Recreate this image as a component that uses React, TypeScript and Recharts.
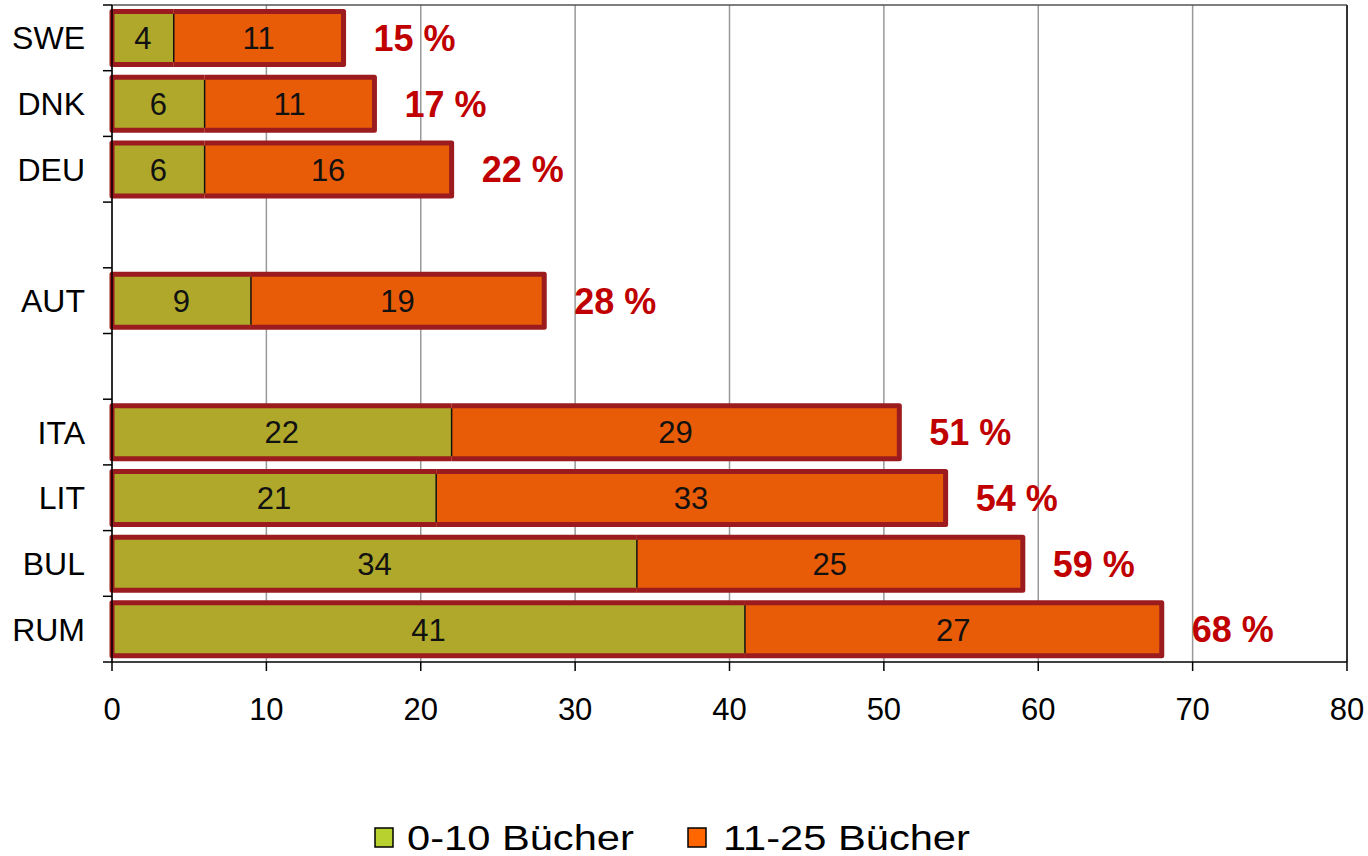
import { BarChart, Bar, XAxis, YAxis, CartesianGrid, LabelList, Legend, ReferenceLine } from "recharts";

// Stacked share of pupils per country by number of books at home
const countries = ["SWE", "DNK", "DEU", " ", "AUT", "  ", "ITA", "LIT", "BUL", "RUM"];
const books0to10 = [4, 6, 6, null, 9, null, 22, 21, 34, 41];
const books11to25 = [11, 11, 16, null, 19, null, 29, 33, 25, 27];
const xTicks = [0, 10, 20, 30, 40, 50, 60, 70, 80];
const seriesNames = ["0-10 Bücher", "11-25 Bücher"];

const data = countries.map((country, i) => ({
  country,
  low: books0to10[i],
  mid: books11to25[i],
  total: books0to10[i] == null ? null : (books0to10[i] as number) + (books11to25[i] as number),
}));

const WIDTH = 1368;
const HEIGHT = 856;
const MARGIN = { top: 5, right: 21, left: 0, bottom: 134 };
const X_AXIS_H = 60;
const Y_AXIS_W = 112;
const FONT = "Arial, 'Liberation Sans', sans-serif";

const GREEN = "#AFA82B";
const ORANGE = "#E95C07";
const LEGEND_GREEN = "#B8D12E";
const LEGEND_ORANGE = "#FF6600";
const OUTLINE = "#9B1B1F";
const PCT_RED = "#C00000";

const bandHalf = (HEIGHT - MARGIN.top - MARGIN.bottom - X_AXIS_H) / countries.length / 2;

// left segment: outline on top, left and bottom
function LowSegment(props: any) {
  const { x, y, width, height, fill } = props;
  if (!width || !height) return null;
  return (
    <g>
      <rect x={x} y={y} width={width} height={height} fill={fill} />
      <path
        d={`M${x + width},${y} H${x} V${y + height} H${x + width}`}
        fill="none"
        stroke={OUTLINE}
        strokeWidth={5}
        strokeLinejoin="round"
      />
    </g>
  );
}

// right segment: thin divider plus outline on top, right and bottom
function HighSegment(props: any) {
  const { x, y, width, height, fill } = props;
  if (!width || !height) return null;
  return (
    <g>
      <rect x={x} y={y} width={width} height={height} fill={fill} />
      <line x1={x} x2={x} y1={y + 2.5} y2={y + height - 2.5} stroke="#111" strokeWidth={1.5} />
      <path
        d={`M${x},${y} H${x + width} V${y + height} H${x}`}
        fill="none"
        stroke={OUTLINE}
        strokeWidth={5}
        strokeLinejoin="round"
      />
    </g>
  );
}

function PercentLabel(props: any) {
  const { x, y, width, height, value } = props;
  if (value == null) return null;
  return (
    <text
      x={x + width + 30}
      y={y + height / 2}
      dy="0.36em"
      fontSize={36}
      fontWeight="bold"
      fontFamily={FONT}
      fill={PCT_RED}
    >
      {`${value} %`}
    </text>
  );
}

function SegmentLabel(props: any) {
  const { x, y, width, height, value } = props;
  if (value == null) return null;
  return (
    <text
      x={x + width / 2}
      y={y + height / 2}
      dy="0.36em"
      textAnchor="middle"
      fontSize={31}
      fontFamily={FONT}
      fill="#111"
    >
      {value}
    </text>
  );
}

// category label plus tick marks on the band boundaries
function CountryTick(props: any) {
  const { x, y, payload, index } = props;
  const half = payload?.offset || bandHalf;
  const axisX = x + 27;
  return (
    <g>
      <text x={x} y={y} dy="0.36em" textAnchor="end" fontSize={32} fontFamily={FONT} fill="#000">
        {payload.value}
      </text>
      <line x1={axisX - 9} x2={axisX} y1={y + half} y2={y + half} stroke="#000" strokeWidth={1.5} />
      {index === 0 && (
        <line x1={axisX - 9} x2={axisX} y1={y - half} y2={y - half} stroke="#000" strokeWidth={1.5} />
      )}
    </g>
  );
}

function LegendContent() {
  const items = [
    { name: seriesNames[0], color: LEGEND_GREEN, box: 375, text: 407 },
    { name: seriesNames[1], color: LEGEND_ORANGE, box: 688, text: 723 },
  ];
  return (
    <svg width={WIDTH} height={56} style={{ display: "block" }}>
      {items.map((it) => (
        <g key={it.name}>
          <rect x={it.box} y={28} width={18} height={19} fill={it.color} stroke="#000" strokeWidth={1.5} />
          <text
            transform={`translate(${it.text},50) scale(1.19,1)`}
            fontSize={35}
            fontFamily={FONT}
            fill="#000"
          >
            {it.name}
          </text>
        </g>
      ))}
    </svg>
  );
}

export default function App() {
  return (
    <div style={{ position: "absolute", left: 0, top: 0, background: "#fff" }}>
      <BarChart
        width={WIDTH}
        height={HEIGHT}
        data={data}
        layout="vertical"
        margin={MARGIN}
        barCategoryGap="10%"
      >
        <CartesianGrid horizontal={false} stroke="#999" strokeWidth={1.5} />
        {/* frame line along the top of the plot */}
        <CartesianGrid vertical={false} horizontalPoints={[MARGIN.top]} stroke="#555" strokeWidth={1.5} />
        <ReferenceLine x={80} stroke="#333" strokeWidth={2} />
        <XAxis
          type="number"
          domain={[0, 80]}
          ticks={xTicks}
          interval={0}
          height={X_AXIS_H}
          tickSize={9}
          tickMargin={27}
          axisLine={{ stroke: "#000", strokeWidth: 1.5 }}
          tickLine={{ stroke: "#000", strokeWidth: 1.5 }}
          tick={{ fontSize: 31, fill: "#000", fontFamily: FONT }}
        />
        <YAxis
          type="category"
          dataKey="country"
          width={Y_AXIS_W}
          interval={0}
          tickSize={0}
          tickMargin={27}
          tickLine={false}
          axisLine={{ stroke: "#000", strokeWidth: 1.5 }}
          tick={<CountryTick />}
        />
        <Bar dataKey="low" stackId="books" fill={GREEN} shape={<LowSegment />} isAnimationActive={false}>
          <LabelList dataKey="low" content={<SegmentLabel />} />
        </Bar>
        <Bar dataKey="mid" stackId="books" fill={ORANGE} shape={<HighSegment />} isAnimationActive={false}>
          <LabelList dataKey="mid" content={<SegmentLabel />} />
          <LabelList dataKey="total" content={<PercentLabel />} />
        </Bar>
        <Legend
          layout="horizontal"
          verticalAlign="middle"
          align="center"
          wrapperStyle={{ top: 800, left: 0, width: WIDTH, height: 56 }}
          content={<LegendContent />}
        />
      </BarChart>
    </div>
  );
}
